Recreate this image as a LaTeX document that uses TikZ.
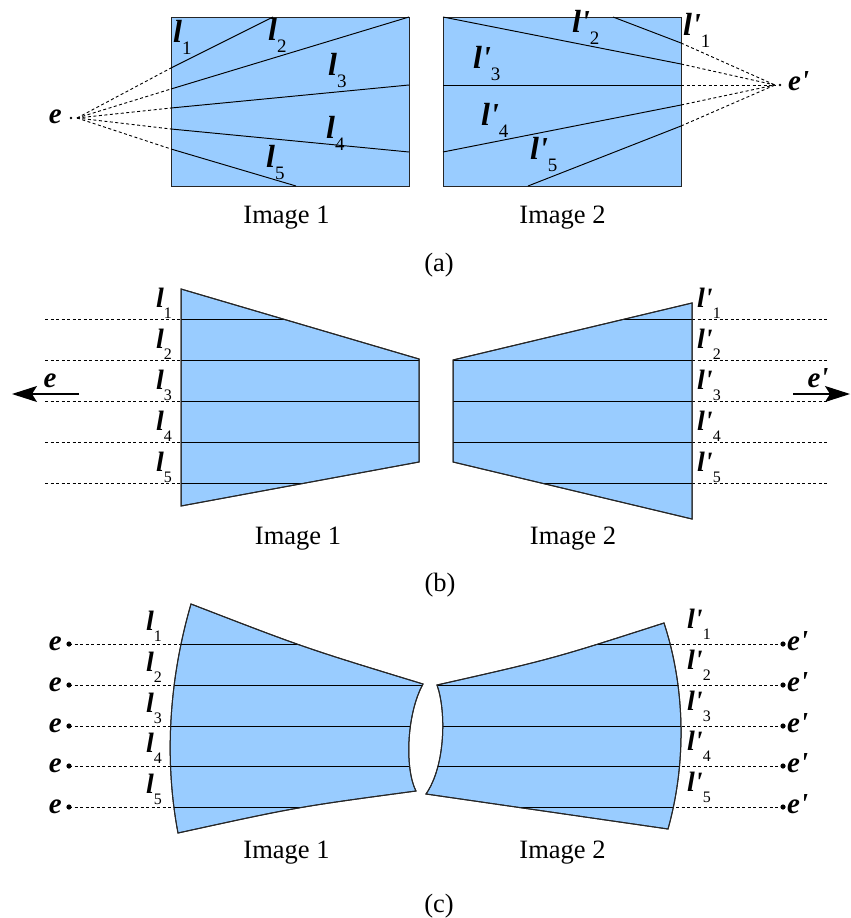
\documentclass[tikz,border=0pt]{standalone}
\usepackage{fontspec}
\setmainfont{Liberation Serif}
\usetikzlibrary{arrows.meta}
\definecolor{imgblue}{RGB}{153,204,255}
\tikzset{
  imgshape/.style={fill=imgblue, draw=black!85, line width=1pt},
  epiline/.style={black, line width=0.95pt},
  dashline/.style={black, line width=0.9pt, dash pattern=on 3pt off 2.5pt},
  caption/.style={font=\fontsize{26.5}{26.5}\selectfont, inner sep=0pt, anchor=base},
  lab/.style={inner sep=0pt, anchor=base west},
  elab/.style={inner sep=0pt, font=\fontsize{29}{29}\selectfont\bfseries\itshape},
  bigarrow/.style={-{Stealth[length=25pt,width=16pt,inset=5pt]}, line width=1.1pt},
}
\newcommand{\lA}[2]{{\fontsize{32}{32}\selectfont\bfseries\itshape l#1}\raisebox{-12pt}{\fontsize{19}{19}\selectfont #2}}
\newcommand{\lB}[2]{{\fontsize{28}{28}\selectfont\bfseries\itshape l#1}\raisebox{-11pt}{\fontsize{16}{16}\selectfont #2}}
\newcommand{\pr}{\textquotesingle}
\begin{document}
\begin{tikzpicture}[x=1pt,y=-1pt]
\useasboundingbox (0,0) rectangle (851,918);

% ================= (a) =================
\coordinate (Ea) at (77,118);
\coordinate (Eb) at (775,85);
\fill (71,118) circle (1.4);
\fill (780,85) circle (1.4);
\node[elab, anchor=base east] (ea) at (62,123) {e};
\node[elab, anchor=base west] (epa) at (788,90) {e\pr};

\draw[imgshape] (171,17) rectangle (409,186);
\draw[imgshape] (443,17) rectangle (681,186);

\foreach \y in {68,89,108,129,149} \draw[dashline] (Ea) -- (171,\y);
\foreach \y in {43,64,85,105,126} \draw[dashline] (681,\y) -- (Eb);

\draw[epiline] (171,68) -- (273,17);
\draw[epiline] (171,89) -- (409,17);
\draw[epiline] (171,108) -- (409,85);
\draw[epiline] (171,129) -- (409,152);
\draw[epiline] (171,149) -- (296,186);

\draw[epiline] (443,17) -- (681,64);
\draw[epiline] (613,17) -- (681,43);
\draw[epiline] (443,85) -- (681,85);
\draw[epiline] (443,152) -- (681,105);
\draw[epiline] (528,186) -- (681,126);

\node[lab] (la1) at (173,42) {\lA{}{1}};
\node[lab] (la2) at (268,40) {\lA{}{2}};
\node[lab] (la3) at (328,75) {\lA{}{3}};
\node[lab] (la4) at (326,138) {\lA{}{4}};
\node[lab] (la5) at (266,167) {\lA{}{5}};

\node[lab] (lpa1) at (683,35) {\lA{\pr}{1}};
\node[lab] (lpa2) at (572,32) {\lA{\pr}{2}};
\node[lab] (lpa3) at (473,68) {\lA{\pr}{3}};
\node[lab] (lpa4) at (481,125) {\lA{\pr}{4}};
\node[lab] (lpa5) at (530,159) {\lA{\pr}{5}};

\node[caption] (ia1) at (286.5,223) {Image 1};
\node[caption] (ia2) at (562.5,223) {Image 2};
\node[caption] (capa) at (439,271) {(a)};

% ================= (b) =================
\foreach \y in {319,360,401,442,483} {
  \draw[dashline] (45,\y) -- (181,\y);
  \draw[dashline] (692,\y) -- (828,\y);
}
\path[imgshape] (181,289) -- (419,359) -- (419,462) -- (181,506) -- cycle;
\begin{scope}
  \clip (181,289) -- (419,359) -- (419,462) -- (181,506) -- cycle;
  \foreach \y in {319,360,401,442,483} \draw[epiline] (170,\y) -- (430,\y);
\end{scope}
\draw[draw=black!85, line width=1pt] (181,289) -- (419,359) -- (419,462) -- (181,506) -- cycle;

\path[imgshape] (453,360) -- (692,303) -- (692,519) -- (453,462) -- cycle;
\begin{scope}
  \clip (453,360) -- (692,303) -- (692,519) -- (453,462) -- cycle;
  \foreach \y in {319,360,401,442,483} \draw[epiline] (440,\y) -- (700,\y);
\end{scope}
\draw[draw=black!85, line width=1pt] (453,360) -- (692,303) -- (692,519) -- (453,462) -- cycle;

\coordinate (ab0) at (79,394);
\coordinate (ab1) at (12,394);
\coordinate (ac0) at (793,394);
\coordinate (ac1) at (850,394);
\draw[bigarrow] (ab0) -- (ab1);
\draw[bigarrow] (ac0) -- (ac1);
\node[elab, anchor=base] (eb) at (50,387) {e};
\node[elab, anchor=base] (epb) at (818,387) {e\pr};

\foreach \y/\k in {319/1,360/2,401/3,442/4,483/5} {
  \node[lab] (lb\k) at (156,\y-12) {\lB{}{\k}};
  \node[lab] (lpb\k) at (697,\y-12) {\lB{\pr}{\k}};
}

\node[caption] (ib1) at (298,544) {Image 1};
\node[caption] (ib2) at (573,544) {Image 2};
\node[caption] (capb) at (440,591) {(b)};

% ================= (c) =================
\foreach \y [count=\k] in {644,685,726,766,807} {
  \draw[dashline] (69,\y) -- (190,\y);
  \draw[dashline] (665,\y) -- (783,\y);
  \fill (69,\y) circle (2.6);
  \fill (783,\y) circle (2.6);
  \node[elab, anchor=base east] (ec\k) at (62,\y+6) {e};
  \node[elab, anchor=base west] (epc\k) at (787,\y+6) {e\pr};
}

\def\leftshape{(191,604) .. controls (305,648) .. (423,684) .. controls (406,715) and (405,770) .. (416,791) .. controls (297,807) .. (178,833) .. controls (166,770) and (166,690) .. (191,604) -- cycle}
\def\rightshape{(437,685) .. controls (552,659) .. (664,623) .. controls (686,690) and (686,765) .. (668,829) -- (426,794) .. controls (446,765) and (446,710) .. (437,685) -- cycle}

\path[imgshape] \leftshape;
\begin{scope}
  \clip \leftshape;
  \foreach \y in {644,685,726,766,807} \draw[epiline] (160,\y) -- (430,\y);
\end{scope}
\draw[draw=black!85, line width=1pt] \leftshape;

\path[imgshape] \rightshape;
\begin{scope}
  \clip \rightshape;
  \foreach \y in {644,685,726,766,807} \draw[epiline] (420,\y) -- (700,\y);
\end{scope}
\draw[draw=black!85, line width=1pt] \rightshape;

\foreach \y/\k in {644/1,685/2,726/3,766/4,807/5} {
  \node[lab] (lc\k) at (146,\y-14) {\lB{}{\k}};
  \node[lab] (lpc\k) at (687,\y-16) {\lB{\pr}{\k}};
}

\node[caption] (ic1) at (286.5,858) {Image 1};
\node[caption] (ic2) at (562.5,858) {Image 2};
\node[caption] (capc) at (439,912) {(c)};
\end{tikzpicture}
\end{document}
